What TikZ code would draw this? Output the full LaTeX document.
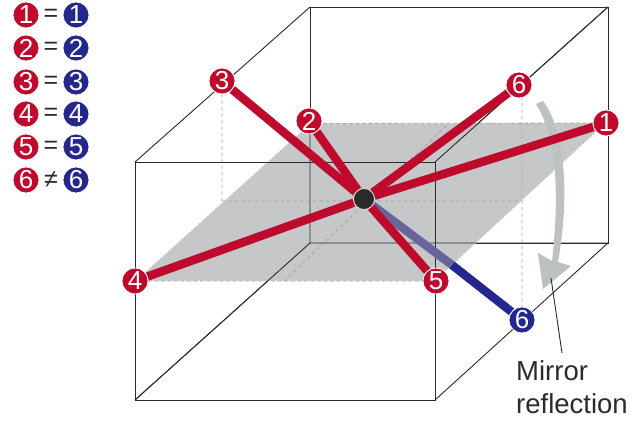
\documentclass[tikz,border=0pt]{standalone}
\usepackage{fontspec}
\setmainfont{Liberation Sans}
\definecolor{myred}{HTML}{BE0A2D}
\definecolor{myblue}{HTML}{24288C}
\definecolor{fadeblue}{HTML}{69659B}
\definecolor{planegray}{HTML}{C5C7C9}
\definecolor{arrowgray}{HTML}{BDC1C2}
\definecolor{dashgray}{HTML}{A2A4A6}
\definecolor{edgeblack}{HTML}{2B2B2B}
\pgfdeclarelayer{base}
\pgfdeclarelayer{bars}
\pgfsetlayers{base,bars,main}
\tikzset{
  redn/.style={circle,fill=myred,draw=white,line width=0.7pt,minimum size=26pt,inner sep=0pt,text=white,font=\fontsize{26}{26}\selectfont},
  bluen/.style={redn,fill=myblue},
  hub/.style={circle,fill=edgeblack,draw=white!85!black,line width=0.8pt,minimum size=21pt,inner sep=0pt},
  cubeline/.style={draw=edgeblack,line width=0.9pt},
  guide/.style={draw=dashgray,line width=0.8pt,dash pattern=on 3.5pt off 3pt},
  redbar/.style={draw=myred,line width=8.5pt},
  bluebar/.style={draw=myblue,line width=8.5pt},
  fadebar/.style={draw=fadeblue,line width=8.5pt},
  rel/.style={font=\fontsize{25}{25}\selectfont,text=edgeblack,inner sep=0pt},
  caption/.style={font=\fontsize{27.5}{27.5}\selectfont,text=edgeblack,inner sep=0pt,anchor=base west}
}
\begin{document}
\begin{tikzpicture}[x=1pt,y=-1pt]
\useasboundingbox (0,0) rectangle (640,422);
% cube corners
\coordinate (fa) at (135,162); \coordinate (fb) at (435,162);
\coordinate (fc) at (435,400); \coordinate (fd) at (135,400);
\coordinate (ba) at (310,7);   \coordinate (bb) at (608,7);
\coordinate (bc) at (608,243); \coordinate (bd) at (310,243);
% plane corners
\coordinate (pa) at (135,281); \coordinate (pb) at (435,281);
\coordinate (pc) at (606,123); \coordinate (pd) at (310,123.5);
\coordinate (m) at (452,265);
% guide points
\coordinate (g3t) at (222,81); \coordinate (g3) at (222,201); \coordinate (g6) at (522,201);
\coordinate (g6t) at (522,90); \coordinate (g6b) at (522,320);
\coordinate (gl) at (284,281); \coordinate (gu) at (448,124);
\coordinate (lt) at (551,278); \coordinate (lb) at (562,353);
\begin{pgfonlayer}{base}
\fill[white] (0,0) rectangle (640,422);
% back edges
\draw[cubeline] (ba) -- (bb) -- (bc) -- (bd) -- cycle;
\draw[cubeline] (fa) -- (ba) (fb) -- (bb) (fc) -- (bc) (fd) -- (bd);
% plane
\fill[planegray] (pa) -- (pb) -- (pc) -- (pd) -- cycle;
\draw[white,line width=0.8pt,dash pattern=on 2pt off 1.5pt] (pa) -- (pb) (pa) -- (pd) (pb) -- (pc);
\draw[guide] (pd) -- (pc) (pa) -- (pb);
\draw[guide] (g3) -- (g6) (gl) -- (gu) (g6t) -- (g6b) (g3t) -- (g3);
\draw[cubeline] (pd) -- (bd) -- (bc) (bd) -- (fd);
% front face
\draw[cubeline] (fa) -- (fb) -- (fc) -- (fd) -- cycle;
\draw[cubeline] (fb) -- (bb);
% arrow
\fill[arrowgray] (536,104) .. controls (556,135) and (560,190) .. (552,261)
  -- (538,253) -- (543,289) -- (571,266) -- (558,262)
  .. controls (570,195) and (565,130) .. (543,101) -- cycle;
\draw[draw=edgeblack,line width=0.9pt] (lt) -- (lb);
\end{pgfonlayer}
% data nodes
\node[redn] (r1) at (606,123) {1};
\node[redn] (r2) at (309,121) {2};
\node[redn] (r3) at (222,81) {3};
\node[redn] (r4) at (135,281) {4};
\node[redn] (r5) at (436,281) {5};
\node[redn] (r6) at (519,85) {6};
\node[bluen] (b6) at (522,320) {6};
\node[hub] (c) at (364,199) {};
\begin{pgfonlayer}{bars}
\draw[fadebar] (c) -- (m);
\draw[bluebar] (m) -- (b6);
\foreach \n in {r1,r2,r3,r4,r5,r6} \draw[redbar] (c) -- (\n);
\end{pgfonlayer}
% legend
\foreach \y/\t/\s in {15/1/=,48/2/=,82/3/=,114/4/=,147/5/=,180/6/≠} {
  \node[redn] (lr\t) at (26,\y) {\t};
  \node[bluen] (lb\t) at (76,\y) {\t};
  \node[rel] (lo\t) at (51,\y) {\s};
}
\node[caption] (t1) at (516,380) {Mirror};
\node[caption] (t2) at (516,413) {reflection};
\end{tikzpicture}
\end{document}
